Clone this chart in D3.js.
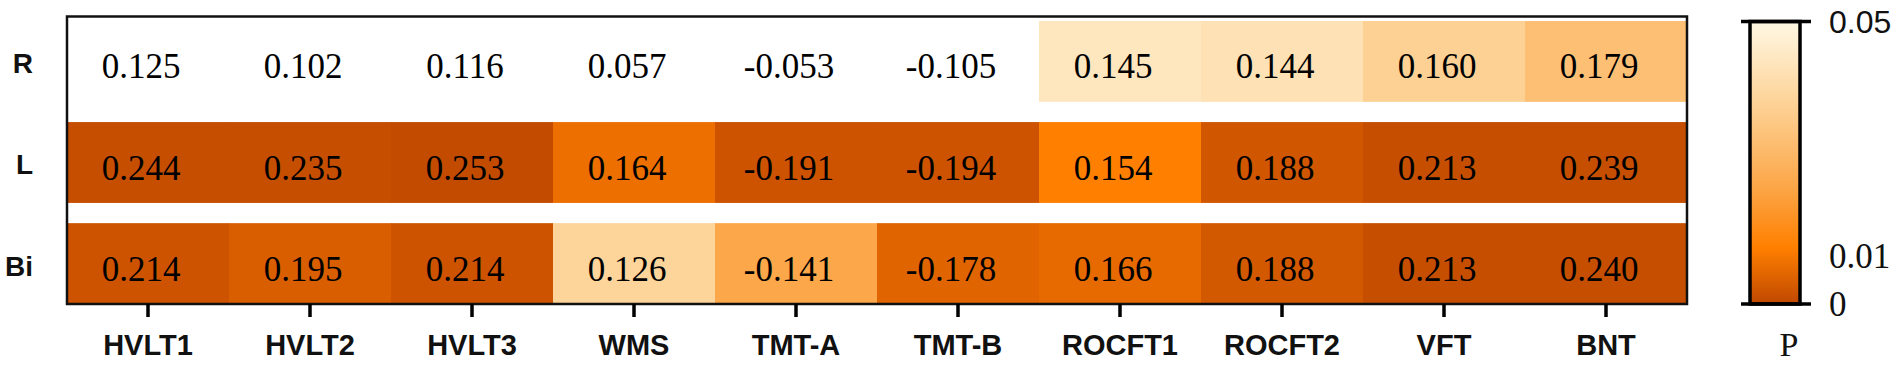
<!DOCTYPE html>
<html>
<head>
    <meta charset="utf-8">
    <title>Heatmap</title>
    <script src="https://cdn.jsdelivr.net/npm/d3@7/dist/d3.min.js"></script>
    <style>
        body { margin: 0; background: #fff; }
    </style>
</head>
<body>
    <script>
        // 列（测验）与行
        var tests = ["HVLT1", "HVLT2", "HVLT3", "WMS", "TMT-A", "TMT-B", "ROCFT1", "ROCFT2", "VFT", "BNT"];
        var sides = ["R", "L", "Bi"];

        // r 值（格子里的文字）
        var rR  = [0.125, 0.102, 0.116, 0.057, -0.053, -0.105, 0.145, 0.144, 0.160, 0.179];
        var rL  = [0.244, 0.235, 0.253, 0.164, -0.191, -0.194, 0.154, 0.188, 0.213, 0.239];
        var rBi = [0.214, 0.195, 0.214, 0.126, -0.141, -0.178, 0.166, 0.188, 0.213, 0.240];

        // P 值（颜色），null = 不显著 (>0.05)，按图中颜色估计
        var pR  = [null, null, null, null, null, null, 0.043, 0.041, 0.035, 0.029];
        var pL  = [0.001, 0.001, 0.0005, 0.007, 0.002, 0.002, 0.010, 0.0025, 0.001, 0.001];
        var pBi = [0.002, 0.004, 0.002, 0.036, 0.021, 0.005, 0.006, 0.003, 0.001, 0.001];

        // 色标刻度
        var legendTicks = [0.05, 0.01, 0];

        var rVals = {R: rR, L: rL, Bi: rBi};
        var pVals = {R: pR, L: pL, Bi: pBi};

        var cells = [];
        sides.forEach(function(s){
            tests.forEach(function(t, i){
                cells.push({side: s, test: t, r: rVals[s][i], p: pVals[s][i]});
            });
        });

        var serif = "'Liberation Serif', 'Times New Roman', serif";
        var sans = "'Liberation Sans', Arial, sans-serif";

        var svg = d3.select("body")
            .append("svg")
            .attr("width", 1901)
            .attr("height", 365);

        var x = d3.scaleBand().domain(tests).range([67, 1687]);
        var y = d3.scaleBand().domain(sides).range([21, 304]).paddingInner(0.2);

        var color = d3.scaleLinear()
            .domain([0, 0.01, 0.02, 0.035, 0.05])
            .range(["#c04800", "#ff8000", "#fca444", "#fdd194", "#fff8e4"]);

        //格子
        svg.selectAll(".cell")
            .data(cells)
            .enter()
            .append("rect")
            .attr("class", "cell")
            .attr("x", function(d){ return x(d.test); })
            .attr("y", function(d){ return y(d.side); })
            .attr("width", x.bandwidth() + 0.5)
            .attr("height", y.bandwidth())
            .attr("fill", function(d){ return d.p === null ? "#fff" : color(d.p); });

        //数字
        svg.selectAll(".val")
            .data(cells)
            .enter()
            .append("text")
            .attr("class", "val")
            .attr("x", function(d){ return x(d.test) + x.bandwidth() / 2 - 7; })
            .attr("y", function(d){ return y(d.side) + y.bandwidth() / 2 + 17; })
            .attr("text-anchor", "middle")
            .style("font-family", serif)
            .style("font-size", "35px")
            .attr("fill", "#000")
            .text(function(d){ return d3.format(".3f")(d.r).replace("−", "-"); });

        //外框
        svg.append("rect")
            .attr("x", 67)
            .attr("y", 16.5)
            .attr("width", 1620)
            .attr("height", 287.5)
            .attr("fill", "none")
            .attr("stroke", "#111")
            .attr("stroke-width", 2.5);

        //x 轴
        var xAxis = svg.append("g")
            .attr("transform", "translate(0,304)")
            .call(d3.axisBottom(x).tickSize(13).tickPadding(17).tickSizeOuter(0));
        xAxis.select(".domain").remove();
        xAxis.selectAll(".tick line").attr("stroke", "#000").attr("stroke-width", 3.5);
        xAxis.selectAll(".tick text")
            .style("font-family", sans)
            .style("font-size", "29px")
            .style("font-weight", "bold")
            .attr("fill", "#111");

        //y 轴标签
        var yAxis = svg.append("g")
            .attr("transform", "translate(67,3)")
            .call(d3.axisLeft(y).tickSize(0).tickPadding(34));
        yAxis.select(".domain").remove();
        yAxis.selectAll(".tick text")
            .style("font-family", sans)
            .style("font-size", "28px")
            .style("font-weight", "bold")
            .attr("fill", "#111");

        //色标
        var ly = d3.scaleLinear().domain([0, 0.05]).range([304, 21.5]);

        var grad = svg.append("defs").append("linearGradient")
            .attr("id", "pgrad")
            .attr("x1", 0).attr("y1", 1)
            .attr("x2", 0).attr("y2", 0);
        grad.selectAll("stop")
            .data(color.domain())
            .enter()
            .append("stop")
            .attr("offset", function(d){ return d / 0.05; })
            .attr("stop-color", function(d){ return color(d); });

        svg.append("rect")
            .attr("x", 1750)
            .attr("y", ly(0.05))
            .attr("width", 50)
            .attr("height", ly(0) - ly(0.05))
            .attr("fill", "url(#pgrad)")
            .attr("stroke", "#000")
            .attr("stroke-width", 3.5);

        svg.selectAll(".cap")
            .data([0, 0.05])
            .enter()
            .append("line")
            .attr("class", "cap")
            .attr("x1", 1741)
            .attr("x2", 1811)
            .attr("y1", function(d){ return ly(d); })
            .attr("y2", function(d){ return ly(d); })
            .attr("stroke", "#000")
            .attr("stroke-width", 3.5);

        svg.selectAll(".ltick")
            .data(legendTicks)
            .enter()
            .append("text")
            .attr("class", "ltick")
            .attr("x", 1829)
            .attr("y", function(d){ return ly(d) + (d === 0.01 ? 8 : 0); })
            .attr("dy", "0.35em")
            .style("font-family", function(d){ return d === 0.05 ? sans : serif; })
            .style("font-size", function(d){ return d === 0.05 ? "32px" : "35px"; })
            .attr("fill", "#111")
            .text(function(d){ return d === 0 ? "0" : d3.format(".2f")(d); });

        svg.append("text")
            .attr("x", 1789)
            .attr("y", 356)
            .attr("text-anchor", "middle")
            .style("font-family", serif)
            .style("font-size", "34px")
            .attr("fill", "#111")
            .text("P");
    </script>
</body>
</html>
